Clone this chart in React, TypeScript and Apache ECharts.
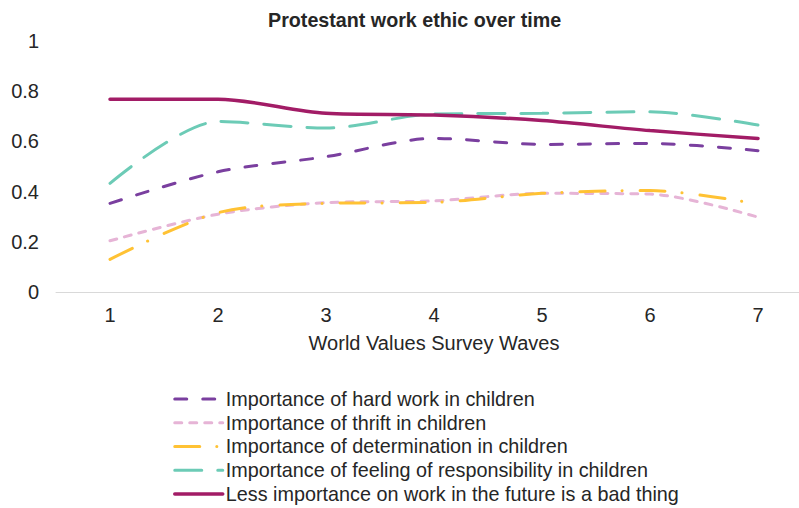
import React, { useEffect, useRef } from "react";
import * as echarts from "echarts";

const waves = ["1", "2", "3", "4", "5", "6", "7"];
const hardWork = [0.353, 0.479, 0.539, 0.612, 0.588, 0.592, 0.563];
const thrift = [0.204, 0.31, 0.356, 0.363, 0.393, 0.39, 0.298];
const determination = [0.13, 0.316, 0.353, 0.357, 0.393, 0.404, 0.351];
const responsibility = [0.433, 0.679, 0.653, 0.709, 0.712, 0.718, 0.665];
const lessWork = [0.768, 0.768, 0.712, 0.705, 0.683, 0.643, 0.612];

const seriesNames = [
  "Importance of hard work in children",
  "Importance of thrift in children",
  "Importance of determination in children",
  "Importance of feeling of responsibility in children",
  "Less importance on work in the future is a bad thing",
];

export default function App() {
  const ref = useRef<HTMLDivElement>(null);
  useEffect(() => {
    if (!ref.current) return;
    const chart = echarts.init(ref.current, undefined, { renderer: "svg" });
    const font = "'Liberation Sans', Arial, sans-serif";
    const mk = (name: string, data: number[], color: string, type: any, width: number) => ({
      name,
      type: "line",
      data,
      smooth: 0.3,
      symbol: "none",
      showSymbol: false,
      lineStyle: { color, width, type, cap: "round" },
      itemStyle: { color },
    });
    chart.setOption({
      animation: false,
      title: {
        text: "Protestant work ethic over time",
        left: 268,
        top: 10,
        padding: 0,
        textStyle: { fontFamily: font, fontSize: 19.7, fontWeight: "bold", color: "#262626" },
      },
      legend: {
        orient: "vertical",
        left: 173,
        top: 387,
        padding: 0,
        itemWidth: 48,
        itemHeight: 14,
        itemGap: 0,
        itemStyle: { opacity: 0 },
        lineStyle: { width: "inherit", cap: "round" },
        textStyle: { fontFamily: font, fontSize: 19.8, color: "#262626", lineHeight: 23.75, padding: [0, 0, 0, -2] },
        data: seriesNames,
      },
      grid: { left: 56, right: 0, top: 41, bottom: 216 },
      xAxis: {
        type: "category",
        data: waves,
        boundaryGap: true,
        name: "World Values Survey Waves",
        nameLocation: "middle",
        nameGap: 41,
        nameTextStyle: { fontFamily: font, fontSize: 20, color: "#262626" },
        axisLine: { lineStyle: { color: "#D9D9D9", width: 1 } },
        axisTick: { show: false },
        axisLabel: { fontFamily: font, fontSize: 20, color: "#262626", margin: 13 },
      },
      yAxis: {
        type: "value",
        min: 0,
        max: 1,
        interval: 0.2,
        splitLine: { show: false },
        axisLine: { show: false },
        axisTick: { show: false },
        axisLabel: { fontFamily: font, fontSize: 20, color: "#262626", margin: 17 },
      },
      series: [
        mk(seriesNames[0], hardWork, "#7A3F9F", [12, 16], 3),
        mk(seriesNames[1], thrift, "#E6B4D6", [7, 8], 3),
        mk(seriesNames[2], determination, "#FFC234", [25, 17, 0.1, 18], 3),
        mk(seriesNames[3], responsibility, "#6CCBB6", [27, 16], 3),
        mk(seriesNames[4], lessWork, "#A21C66", "solid", 3.5),
      ],
    });
    return () => chart.dispose();
  }, []);
  return (
    <div style={{ position: "absolute", left: 0, top: 0, width: 799, height: 508, overflow: "hidden", background: "#fff" }}>
      <div ref={ref} style={{ width: 812, height: 508 }} />
    </div>
  );
}
